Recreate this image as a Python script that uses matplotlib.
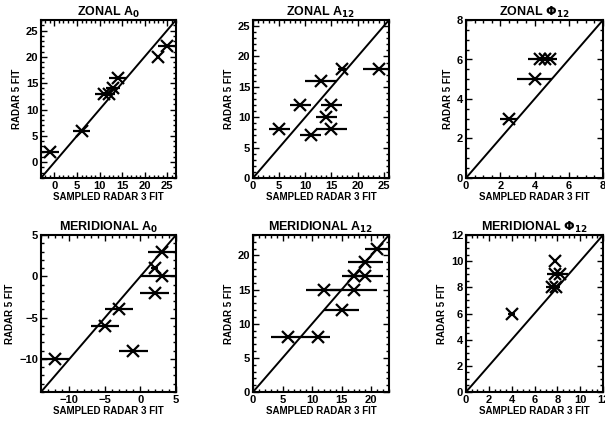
import matplotlib
matplotlib.use("Agg")
import matplotlib.pyplot as plt
from matplotlib.ticker import MultipleLocator

plt.rcParams["font.family"] = ["Liberation Sans", "DejaVu Sans"]
plt.rcParams["font.weight"] = "bold"
plt.rcParams["mathtext.default"] = "bf"

# values: x, y and horizontal error half-width
zonal_a0_x = [-1, 6, 11, 12, 13, 14, 23, 25]
zonal_a0_y = [2, 6, 13, 13, 14, 16, 20, 22]
zonal_a0_err = [2, 1.8, 2, 1.5, 1.5, 2, 0.5, 2]

zonal_a12_x = [5, 9, 11, 13, 14, 15, 15, 17, 24]
zonal_a12_y = [8, 12, 7, 16, 10, 12, 8, 18, 18]
zonal_a12_err = [2, 2, 2, 3, 2, 2, 3, 0.7, 3]

zonal_phi_x = [2.5, 4, 4.3, 4.6, 4.9]
zonal_phi_y = [3, 5, 6, 6, 6]
zonal_phi_err = [0.5, 1, 0.7, 0.5, 0.4]

mer_a0_x = [-12, -5, -3, -1, 2, 2, 3, 3]
mer_a0_y = [-10, -6, -4, -9, 1, -2, 0, 3]
mer_a0_err = [2, 2, 2, 2, 0.5, 2, 3, 2]

mer_a12_x = [6, 11, 12, 15, 17, 17, 19, 19, 21]
mer_a12_y = [8, 8, 15, 12, 15, 17, 17, 19, 21]
mer_a12_err = [3, 2, 3, 3, 4, 2, 3, 3, 2]

mer_phi_x = [4, 7.5, 7.9, 7.8, 8.2, 7.8]
mer_phi_y = [6, 8, 8, 9, 9, 10]
mer_phi_err = [0.3, 0.5, 0.3, 0.7, 0.7, 0]

titles = ["ZONAL A$_{0}$", "ZONAL A$_{12}$", "ZONAL $\\Phi_{12}$",
          "MERIDIONAL A$_{0}$", "MERIDIONAL A$_{12}$", "MERIDIONAL $\\Phi_{12}$"]
limits = [(-3, 27), (0, 26), (0, 8), (-14, 5), (0, 23), (0, 12)]
majors = [5, 5, 2, 5, 5, 2]
minors = [1, 1, 0.5, 1, 1, 0.5]

panels = [
    (zonal_a0_x, zonal_a0_y, zonal_a0_err),
    (zonal_a12_x, zonal_a12_y, zonal_a12_err),
    (zonal_phi_x, zonal_phi_y, zonal_phi_err),
    (mer_a0_x, mer_a0_y, mer_a0_err),
    (mer_a12_x, mer_a12_y, mer_a12_err),
    (mer_phi_x, mer_phi_y, mer_phi_err),
]

W, H = 605, 423
lefts = [41, 253, 466]
widths = [135, 136, 137]
tops = [20, 235]
heights = [158, 157]

fig = plt.figure(figsize=(W / 100, H / 100), dpi=100)

for i, (xs, ys, errs) in enumerate(panels):
    r, c = divmod(i, 3)
    ax = fig.add_axes([lefts[c] / W, 1 - (tops[r] + heights[r]) / H,
                       widths[c] / W, heights[r] / H])
    lo, hi = limits[i]
    ax.plot([lo, hi], [lo, hi], color="black", lw=1.4)
    ax.errorbar(xs, ys, xerr=errs, fmt="x", color="black", ms=8, mew=1.6,
                elinewidth=1.6, capsize=0, clip_on=True)
    ax.set_xlim(lo, hi)
    ax.set_ylim(lo, hi)
    ax.xaxis.set_major_locator(MultipleLocator(majors[i]))
    ax.yaxis.set_major_locator(MultipleLocator(majors[i]))
    ax.xaxis.set_minor_locator(MultipleLocator(minors[i]))
    ax.yaxis.set_minor_locator(MultipleLocator(minors[i]))
    ax.tick_params(which="both", direction="in", top=True, right=True,
                   labelsize=8, pad=2, width=1)
    ax.tick_params(which="major", length=4)
    ax.tick_params(which="minor", length=2)
    for s in ax.spines.values():
        s.set_linewidth(1.5)
    ax.set_title(titles[i], fontsize=9, fontweight="bold", pad=3)
    ax.set_xlabel("SAMPLED RADAR 3 FIT", fontsize=7, fontweight="bold", labelpad=1)
    ax.set_ylabel("RADAR 5 FIT", fontsize=7, fontweight="bold", labelpad=3)

fig.savefig("out.png", dpi=100)
